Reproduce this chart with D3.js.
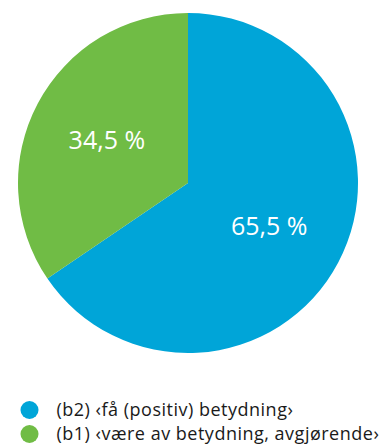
<!DOCTYPE html>
<html>
<head>
<meta charset="utf-8">
<script src="https://cdn.jsdelivr.net/npm/d3@7"></script>
<style>
  html, body { margin: 0; padding: 0; background: #fff; }
  svg { display: block; }
  text { font-family: "Open Sans", "Lato", sans-serif; }
</style>
</head>
<body>
<svg id="chart" width="384" height="445"></svg>
<script>
// Shares of the two readings, in percent
const categories = ["(b2) ‹få (positiv) betydning›", "(b1) ‹være av betydning, avgjørende›"];
const values = [65.5, 34.5];
const valueLabels = ["65,5 %", "34,5 %"];
const colors = ["#00A5D8", "#70BC45"];

const svg = d3.select("#chart");
const cx = 188, cy = 183, radius = 170;

const pie = d3.pie().sort(null).value(d => d)(values);
const arc = d3.arc().innerRadius(0).outerRadius(radius);
const labelArc = d3.arc().innerRadius(radius * 0.54).outerRadius(radius * 0.54);

const g = svg.append("g").attr("transform", `translate(${cx},${cy})`);

g.selectAll("path.slice")
  .data(pie)
  .join("path")
  .attr("class", "slice")
  .attr("d", arc)
  .attr("fill", (d, i) => colors[i]);

g.selectAll("text.value")
  .data(pie)
  .join("text")
  .attr("class", "value")
  .attr("transform", d => `translate(${labelArc.centroid(d)})`)
  .attr("text-anchor", "middle")
  .attr("dy", "0.36em")
  .attr("fill", "#fff")
  .attr("font-size", 25)
  .attr("font-weight", 400)
  .text((d, i) => valueLabels[i]);

// Legend
const legend = svg.append("g").attr("transform", "translate(29.5,410)");
const rows = legend.selectAll("g.row")
  .data(categories)
  .join("g")
  .attr("class", "row")
  .attr("transform", (d, i) => `translate(0,${i * 24})`);

rows.append("circle")
  .attr("r", 9)
  .attr("fill", (d, i) => colors[i]);

rows.append("text")
  .attr("x", 27)
  .attr("y", 6)
  .attr("font-size", 18)
  .attr("font-weight", 500)
  .attr("letter-spacing", 0.5)
  .attr("fill", "#1a1a1a")
  .text(d => d);
</script>
</body>
</html>
